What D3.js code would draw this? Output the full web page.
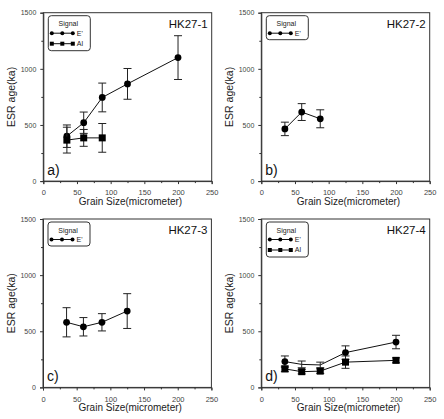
<!DOCTYPE html>
<html lang="en">
<head>
<meta charset="UTF-8">
<title>ESR age vs grain size</title>
<script src="https://d3js.org/d3.v7.min.js"></script>
<style>
    body { margin: 0; background: #fff; }
    svg { display: block; font-family: "Liberation Sans", Arial, sans-serif; }
    .tick text { font-family: "Liberation Sans Narrow", "Liberation Sans", sans-serif; fill: #444; }
    .domain, .tick line { stroke: #333; }
</style>
</head>
<body>
<div id="chart"></div>
<script>
    // grain sizes (micrometer)
    const grain = [35, 60, 87.5, 125, 200];

    // HK27-1
    const ageE1 = [400, 520, 745, 866, 1100];
    const errE1 = [100, 95, 128, 137, 195];
    const ageAl1 = [365, 385, 385];
    const errAl1 = [115, 75, 128];

    // HK27-2
    const ageE2 = [465, 615, 555];
    const errE2 = [60, 75, 80];

    // HK27-3
    const ageE3 = [580, 540, 580, 680];
    const errE3 = [130, 82, 77, 155];

    // HK27-4
    const ageE4 = [230, 205, 200, 310, 404];
    const errE4 = [50, 30, 25, 60, 60];
    const markE4 = [true, false, false, true, true];
    const ageAl4 = [165, 140, 145, 225, 241];
    const errAl4 = [25, 20, 20, 55, 22];

    const xTicks = [0, 50, 100, 150, 200, 250];
    const xMinor = [25, 75, 125, 175, 225];
    const yTicks = [0, 500, 1000, 1500];
    const yMinor = [250, 750, 1250];

    function series(ages, errs, marks) {
        return ages.map((a, i) => ({ x: grain[i], y: a, e: errs[i], m: marks ? marks[i] : true }));
    }

    const panels = [
        { name: "HK27-1", tag: "a)", left: 43.3, top: 12.7,
          sets: [{ label: "E'", shape: "circle", pts: series(ageE1, errE1) },
                 { label: "Al", shape: "square", pts: series(ageAl1, errAl1) }] },
        { name: "HK27-2", tag: "b)", left: 261.3, top: 12.7,
          sets: [{ label: "E'", shape: "circle", pts: series(ageE2, errE2) }] },
        { name: "HK27-3", tag: "c)", left: 43, top: 219,
          sets: [{ label: "E'", shape: "circle", pts: series(ageE3, errE3) }] },
        { name: "HK27-4", tag: "d)", left: 261.3, top: 219,
          sets: [{ label: "E'", shape: "circle", pts: series(ageE4, errE4, markE4) },
                 { label: "Al", shape: "square", pts: series(ageAl4, errAl4) }] }
    ];

    const W = 444, H = 419, pw = 168.4, ph = 168.4;

    const svg = d3.select("#chart").append("svg")
        .attr("width", W)
        .attr("height", H);

    function drawMarker(g, shape, cx, cy, s) {
        if (shape === "circle") {
            g.append("circle").attr("cx", cx).attr("cy", cy).attr("r", s).attr("fill", "#000");
        } else {
            g.append("rect").attr("x", cx - s).attr("y", cy - s)
                .attr("width", 2 * s).attr("height", 2 * s).attr("fill", "#000");
        }
    }

    panels.forEach(p => {
        const x = d3.scaleLinear().domain([0, 250]).range([p.left, p.left + pw]);
        const y = d3.scaleLinear().domain([0, 1500]).range([p.top + ph, p.top]);
        const g = svg.append("g");

        // frame
        g.append("rect")
            .attr("x", p.left).attr("y", p.top)
            .attr("width", pw).attr("height", ph)
            .attr("fill", "none").attr("stroke", "#333").attr("stroke-width", 1);

        // x axis
        g.append("g")
            .attr("transform", `translate(0,${p.top + ph})`)
            .call(d3.axisBottom(x).tickValues(xTicks).tickSize(3).tickPadding(6).tickFormat(d3.format("d")))
            .call(a => a.selectAll("text").attr("font-size", 7.5));
        g.append("g")
            .attr("transform", `translate(0,${p.top + ph})`)
            .call(d3.axisBottom(x).tickValues(xMinor).tickSize(2).tickFormat(""))
            .call(a => a.select(".domain").remove());

        // y axis
        g.append("g")
            .attr("transform", `translate(${p.left},0)`)
            .call(d3.axisLeft(y).tickValues(yTicks).tickSize(3).tickPadding(4).tickFormat(d3.format("d")))
            .call(a => a.selectAll("text").attr("font-size", 7));
        g.append("g")
            .attr("transform", `translate(${p.left},0)`)
            .call(d3.axisLeft(y).tickValues(yMinor).tickSize(2).tickFormat(""))
            .call(a => a.select(".domain").remove());

        // axis titles
        g.append("text")
            .attr("x", p.left + pw / 2 + 3)
            .attr("y", p.top + ph + 24)
            .attr("text-anchor", "middle")
            .attr("font-size", 10)
            .attr("fill", "#222")
            .text("Grain Size(micrometer)");
        g.append("text")
            .attr("transform", `translate(${p.left - 32},${p.top + ph / 2}) rotate(-90)`)
            .attr("dy", "0.35em")
            .attr("text-anchor", "middle")
            .attr("font-size", 10.5)
            .attr("fill", "#222")
            .text("ESR age(ka)");

        // sample name and panel tag
        g.append("text")
            .attr("x", p.left + pw - 4)
            .attr("y", p.top + 15)
            .attr("text-anchor", "end")
            .attr("font-family", "'Liberation Sans Narrow', 'Liberation Sans', sans-serif")
            .attr("font-size", 11.5)
            .attr("fill", "#111")
            .text(p.name);
        g.append("text")
            .attr("x", p.left + 4)
            .attr("y", p.top + ph - 6)
            .attr("font-size", 14)
            .attr("fill", "#111")
            .text(p.tag);

        // data
        const line = d3.line().x(d => x(d.x)).y(d => y(d.y));
        p.sets.forEach(s => {
            const sg = g.append("g");
            sg.append("path")
                .attr("d", line(s.pts))
                .attr("fill", "none")
                .attr("stroke", "#111")
                .attr("stroke-width", 1);
            s.pts.forEach(d => {
                const cx = x(d.x);
                sg.append("line")
                    .attr("x1", cx).attr("x2", cx)
                    .attr("y1", y(d.y - d.e)).attr("y2", y(d.y + d.e))
                    .attr("stroke", "#222").attr("stroke-width", 1);
                [d.y - d.e, d.y + d.e].forEach(v => {
                    sg.append("line")
                        .attr("x1", cx - 4).attr("x2", cx + 4)
                        .attr("y1", y(v)).attr("y2", y(v))
                        .attr("stroke", "#222").attr("stroke-width", 1);
                });
                if (d.m) drawMarker(sg, s.shape, cx, y(d.y), s.shape === "circle" ? 3.4 : 3.5);
            });
        });

        // legend
        const lx = p.left + 5, ly = p.top + 3;
        const lh = 14 + 11 * p.sets.length - 1;
        const lg = g.append("g");
        lg.append("rect")
            .attr("x", lx).attr("y", ly)
            .attr("width", 42).attr("height", lh)
            .attr("rx", 3).attr("ry", 3)
            .attr("fill", "#fff").attr("stroke", "#333").attr("stroke-width", 1);
        lg.append("text")
            .attr("x", lx + 20).attr("y", ly + 10.5)
            .attr("text-anchor", "middle")
            .attr("font-size", 7)
            .attr("fill", "#222")
            .text("Signal");
        p.sets.forEach((s, i) => {
            const ry = ly + 17.5 + i * 10.5;
            lg.append("line")
                .attr("x1", lx + 3.5).attr("x2", lx + 24.5)
                .attr("y1", ry).attr("y2", ry)
                .attr("stroke", "#111").attr("stroke-width", 1);
            [3.5, 14, 24.5].forEach(o => drawMarker(lg, s.shape, lx + o, ry, 2));
            lg.append("text")
                .attr("x", lx + 28.5).attr("y", ry)
                .attr("dy", "0.35em")
                .attr("font-size", 7)
                .attr("fill", "#222")
                .text(s.label);
        });
    });
</script>
</body>
</html>
